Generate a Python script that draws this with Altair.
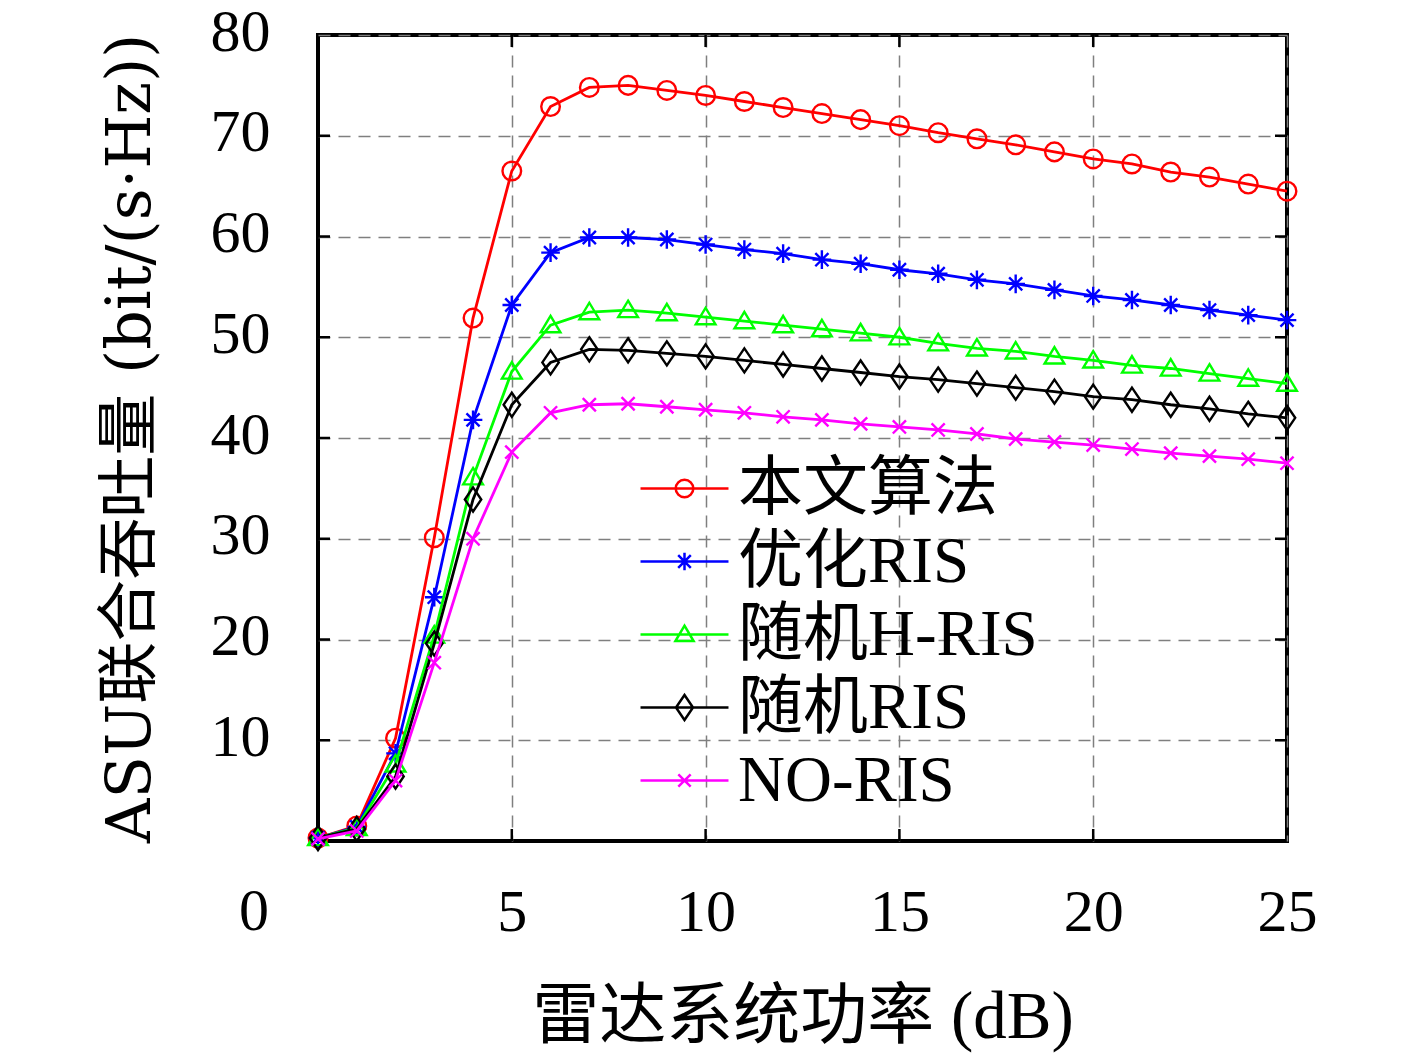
import altair as alt
import pandas as pd

# ---------------- data ----------------
x_vals = list(range(26))
series_names = ["本文算法", "优化RIS", "随机H-RIS", "随机RIS", "NO-RIS"]
series_colors = ["#ff0000", "#0000ff", "#00ff00", "#000000", "#ff00ff"]

y_proposed = [0.3, 1.5, 10.2, 30.1, 51.9, 66.5, 72.9, 74.8, 75.0, 74.5, 74.0, 73.4, 72.8,
              72.2, 71.6, 71.0, 70.3, 69.7, 69.1, 68.4, 67.7, 67.2, 66.4, 65.9, 65.2, 64.5]
y_opt_ris = [0.3, 1.4, 8.7, 24.2, 41.8, 53.2, 58.4, 59.9, 59.9, 59.7, 59.2, 58.7, 58.3,
             57.7, 57.3, 56.7, 56.3, 55.7, 55.3, 54.7, 54.1, 53.7, 53.2, 52.7, 52.2, 51.7]
y_rand_hris = [0.3, 1.3, 7.6, 20.4, 36.1, 46.6, 51.2, 52.5, 52.7, 52.4, 52.0, 51.6, 51.2,
               50.8, 50.4, 50.0, 49.4, 48.9, 48.6, 48.1, 47.7, 47.2, 46.9, 46.4, 45.9, 45.4]
y_rand_ris = [0.3, 1.2, 6.4, 19.6, 33.9, 43.3, 47.5, 48.8, 48.7, 48.4, 48.1, 47.7, 47.3,
              46.9, 46.5, 46.1, 45.8, 45.4, 45.0, 44.6, 44.1, 43.8, 43.3, 42.9, 42.4, 42.0]
y_no_ris = [0.2, 1.0, 6.0, 17.7, 30.0, 38.6, 42.5, 43.3, 43.4, 43.1, 42.8, 42.5, 42.1,
            41.8, 41.4, 41.1, 40.8, 40.4, 39.9, 39.6, 39.3, 38.9, 38.5, 38.2, 37.9, 37.5]
series_values = [y_proposed, y_opt_ris, y_rand_hris, y_rand_ris, y_no_ris]

x_ticks = [5, 10, 15, 20, 25]
x_origin_label = ["0"]
y_ticks = [10, 20, 30, 40, 50, 60, 70, 80]
x_inner_ticks = [5, 10, 15, 20]
y_inner_ticks = [10, 20, 30, 40, 50, 60, 70]

x_title = "雷达系统功率 (dB)"
y_title = "ASU联合吞吐量 (bit/(s·Hz))"

# ---------------- style ----------------
W, H = 969, 806
FONT = "Liberation Serif, Noto Sans CJK SC"
FONT_WIDE = "DejaVu Serif, Noto Sans CJK SC"

# markers used on the curves (unit = sqrt(size)/2 ~ 11 px)
marker_paths = [
    "M-0.85,0A0.85,0.85 0 1,0 0.85,0A0.85,0.85 0 1,0 -0.85,0Z",
    "M-0.85,0H0.85M0,-0.85V0.85M-0.6,-0.6L0.6,0.6M-0.6,0.6L0.6,-0.6",
    "M0,-0.85L0.9,0.65L-0.9,0.65Z",
    "M0,-1.1L0.75,0L0,1.1L-0.75,0Z",
    "M-0.6,-0.6L0.6,0.6M-0.6,0.6L0.6,-0.6",
]
# legend symbols: line segment + marker (unit = sqrt(860)/2 ~ 14.66 px)
legend_line = "M-3,0H3"
legend_paths = [
    legend_line + "M-0.6,0A0.6,0.6 0 1,0 0.6,0A0.6,0.6 0 1,0 -0.6,0Z",
    legend_line + "M-0.6,0H0.6M0,-0.6V0.6M-0.43,-0.43L0.43,0.43M-0.43,0.43L0.43,-0.43",
    legend_line + "M0,-0.6L0.62,0.45L-0.62,0.45Z",
    legend_line + "M0,-0.85L0.58,0L0,0.85L-0.58,0Z",
    legend_line + "M-0.42,-0.42L0.42,0.42M-0.42,0.42L0.42,-0.42",
]

rows = []
for name, vals in zip(series_names, series_values):
    for xv, yv in zip(x_vals, vals):
        rows.append({"series": name, "x": xv, "y": yv})
df = pd.DataFrame(rows)

x_axis = alt.Axis(
    values=x_ticks, title=x_title, grid=True, ticks=False, domain=False,
    labelFlush=False, labelFontSize=60, labelFont=FONT, labelColor="black",
    labelPadding=42,
    titleFont=FONT, titleFontSize=67, titleFontWeight="normal", titleColor="black",
    titlePadding=42,
)
y_axis = alt.Axis(
    values=y_ticks, title=y_title, grid=True, ticks=False, domain=False,
    labelFontSize=60, labelFont=FONT, labelColor="black", labelPadding=48,
    labelOffset=-3,
    titleFont=FONT_WIDE, titleFontSize=62, titleFontWeight="normal", titleColor="black",
    titlePadding=48,
)
x_scale = alt.Scale(domain=[0, 25], nice=False, zero=False)
y_scale = alt.Scale(domain=[0, 80], nice=False, zero=False)

layers = []
for name, color, mpath in zip(series_names, series_colors, marker_paths):
    sub = alt.Chart(df).transform_filter(alt.datum.series == name)
    line = sub.mark_line(color=color, strokeWidth=2.8).encode(
        x=alt.X("x:Q", scale=x_scale, axis=x_axis),
        y=alt.Y("y:Q", scale=y_scale, axis=y_axis),
    )
    pts = sub.mark_point(shape=mpath, size=480, filled=False, color=color,
                         strokeWidth=2.4, opacity=1).encode(
        x=alt.X("x:Q", scale=x_scale, axis=x_axis),
        y=alt.Y("y:Q", scale=y_scale, axis=y_axis),
    )
    layers += [line, pts]

# inward tick marks on all four sides
yt = pd.DataFrame({"v": y_inner_ticks})
xt = pd.DataFrame({"v": x_inner_ticks})
tick_style = dict(color="black", strokeWidth=2.5)
ticks_left = alt.Chart(yt).mark_rule(**tick_style).encode(
    y=alt.Y("v:Q", scale=y_scale), x=alt.value(0), x2=alt.value(12))
ticks_right = alt.Chart(yt).mark_rule(**tick_style).encode(
    y=alt.Y("v:Q", scale=y_scale), x=alt.value(W - 12), x2=alt.value(W))
ticks_bottom = alt.Chart(xt).mark_rule(**tick_style).encode(
    x=alt.X("v:Q", scale=x_scale), y=alt.value(H - 12), y2=alt.value(H))
ticks_top = alt.Chart(xt).mark_rule(**tick_style).encode(
    x=alt.X("v:Q", scale=x_scale), y=alt.value(0), y2=alt.value(12))

# the "0" label of the x axis, set off to the left as in the original
origin_df = pd.DataFrame({"v": [0], "label": x_origin_label})
origin_text = alt.Chart(origin_df).mark_text(
    font=FONT, fontSize=60, color="black", align="center", baseline="top", dx=-64, dy=42,
).encode(x=alt.X("v:Q", scale=x_scale), y=alt.value(H), text="label:N")

legend_kw = dict(
    title=None, orient="none", legendX=334, legendY=421, padding=0,
    labelFont=FONT, labelFontSize=65, labelColor="black", labelOffset=21,
    rowPadding=7, symbolSize=860, symbolStrokeWidth=2.5, labelLimit=600,
)
legend_df = pd.DataFrame({"series": series_names})
legend_layer = alt.Chart(legend_df).mark_point(filled=False, size=860, strokeWidth=2.5, opacity=1).encode(
    color=alt.Color("series:N", scale=alt.Scale(domain=series_names, range=series_colors),
                    legend=alt.Legend(**legend_kw)),
    shape=alt.Shape("series:N", scale=alt.Scale(domain=series_names, range=legend_paths),
                    legend=alt.Legend(**legend_kw)),
).transform_filter("false")

chart = alt.layer(*layers, ticks_left, ticks_right, ticks_bottom, ticks_top, origin_text,
                  legend_layer).properties(
    width=W, height=H,
    autosize=alt.AutoSizeParams(type="none"),
    padding={"left": 310, "top": 27, "right": 110, "bottom": 222},
    background="white",
).configure_view(
    stroke="black", strokeWidth=4,
).configure_axis(
    gridColor="#7f7f7f", gridDash=[12, 8], gridWidth=1.5, gridOpacity=1,
)

chart.save("out.html", embed_options={"renderer": "svg", "actions": False})
